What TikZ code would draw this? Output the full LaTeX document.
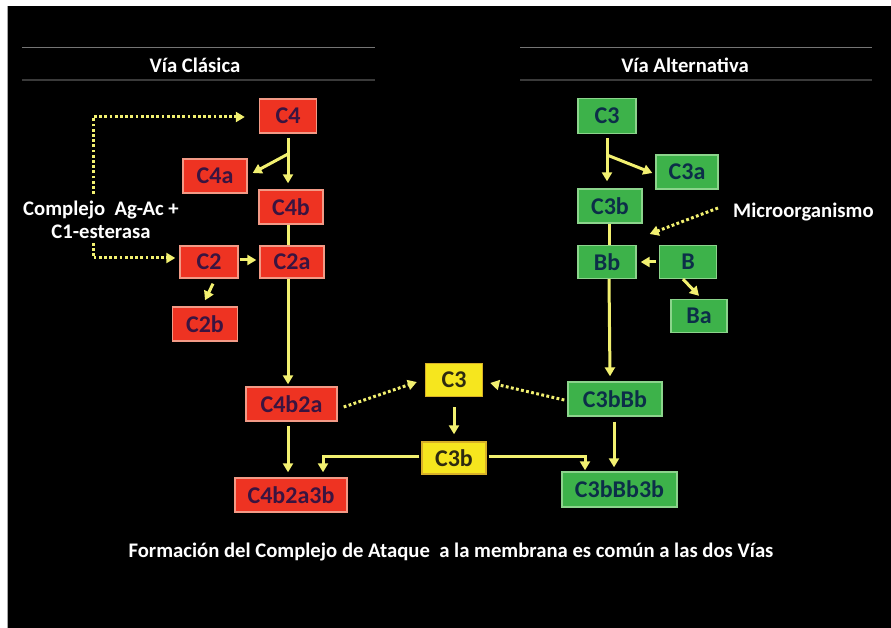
\documentclass[tikz,border=0pt]{standalone}
\usepackage{fontspec}
\setmainfont{Carlito}
\usetikzlibrary{arrows.meta}
\definecolor{redfill}{HTML}{EE3322}
\definecolor{redline}{HTML}{F29A86}
\definecolor{redtext}{HTML}{3A1440}
\definecolor{grnfill}{HTML}{3DB24A}
\definecolor{grnline}{HTML}{8CD48C}
\definecolor{grntext}{HTML}{0C2E48}
\definecolor{ylwfill}{HTML}{F6E61E}
\definecolor{ylwline}{HTML}{D8B028}
\definecolor{ylwtext}{HTML}{2E2A10}
\definecolor{arrowc}{HTML}{F2F070}
\definecolor{rulec}{HTML}{3A3A3A}
\tikzset{
  box/.style={draw, line width=1.4pt, inner sep=0pt, minimum height=34pt,
    font=\fontsize{24}{26}\selectfont\bfseries},
  redbox/.style={box, fill=redfill, draw=redline, text=redtext},
  grnbox/.style={box, fill=grnfill, draw=grnline, text=grntext},
  ylwbox/.style={box, fill=ylwfill, draw=ylwline, text=ylwtext},
  lbl/.style={text=white, font=\fontsize{20.7}{23}\selectfont\bfseries, inner sep=0pt},
  tip/.style={-{Triangle[length=9pt,width=10pt]}},
  arr/.style={draw=arrowc, line width=3pt, tip},
  plain/.style={draw=arrowc, line width=3pt},
  dots/.style={draw=arrowc, line width=3pt, dash pattern=on 2.8pt off 2.4pt, tip}
}
\begin{document}
\begin{tikzpicture}[x=1pt,y=-1pt]
\useasboundingbox (0,0) rectangle (891,628);
\fill[white] (0,0) rectangle (891,628);
\fill[black] (7,6) rectangle (891,628);
\draw[gray!70, line width=0.8pt] (7.4,6) -- (7.4,628);
% headers
\draw[rulec!70, line width=1pt] (22,48) -- (375,48);
\draw[rulec, line width=1.2pt] (22,80) -- (375,80);
\draw[rulec!70, line width=1pt] (520,48) -- (872,48);
\draw[rulec, line width=1.2pt] (520,80) -- (872,80);
\node[lbl] (hcl) at (195,65) {Vía Clásica};
\node[lbl] (halt) at (685,65) {Vía Alternativa};
% classical
\node[redbox, minimum width=57pt] (C4) at (288,116) {C4};
\node[redbox, minimum width=64pt] (C4a) at (215,176) {C4a};
\node[redbox, minimum width=64pt] (C4b) at (291,207) {C4b};
\node[redbox, minimum width=58pt, minimum height=32pt] (C2) at (209,262) {C2};
\node[redbox, minimum width=64pt, minimum height=32pt] (C2a) at (292,262) {C2a};
\node[redbox, minimum width=65pt] (C2b) at (205,324) {C2b};
\node[redbox, minimum width=91pt] (C4b2a) at (291.5,404) {C4b2a};
\node[redbox, minimum width=112pt] (C4b2a3b) at (291,495) {C4b2a3b};
% common
\node[ylwbox, minimum width=57pt, minimum height=33pt] (Y3) at (454,380) {C3};
\node[ylwbox, minimum width=64pt, minimum height=32pt] (Y3b) at (454,458) {C3b};
% alternative
\node[grnbox, minimum width=58pt, minimum height=35pt] (G3) at (607,116) {C3};
\node[grnbox, minimum width=62pt] (G3a) at (687,172) {C3a};
\node[grnbox, minimum width=64pt] (G3b) at (610,206) {C3b};
\node[grnbox, minimum width=58pt, minimum height=33pt] (Bb) at (607,262) {Bb};
\node[grnbox, minimum width=57pt, minimum height=33pt] (B) at (688,262) {B};
\node[grnbox, minimum width=56pt, minimum height=33pt] (Ba) at (699,316) {Ba};
\node[grnbox, minimum width=94pt] (GBb) at (615,399) {C3bBb};
\node[grnbox, minimum width=115pt, minimum height=35pt] (GBb3b) at (619.5,489.5) {C3bBb3b};
% labels
\node[lbl, align=center] (cx) at (101,220) {Complejo\ \ Ag-Ac +\\C1-esterasa};
\node[lbl, anchor=west] (mo) at (733,212) {Microorganismo};
\node[lbl] (foot) at (451,552) {Formación del Complejo de Ataque\ \ a la membrana es común a las dos Vías};
% classical connectors
\coordinate (c4split) at ([yshift=-38pt]C4.center);
\draw[arr] ([yshift=-4pt]C4.south) -- ([yshift=6pt]C4.south |- C4b.north);
\draw[arr] (c4split) -- ([xshift=5pt,yshift=3pt]C4a.east);
\draw[plain] (C4.south |- C4b.south) -- (C4.south |- C2a.north);
\draw[arr] ([xshift=1pt,yshift=2pt]C2.east) -- ([xshift=-3pt,yshift=2pt]C2a.west);
\draw[arr] ([shift={(4pt,-5pt)}]C2.south) -- ([yshift=6pt]C2b.north);
\draw[arr] (C4.south |- C2a.south) -- ([yshift=2pt]C4.south |- C4b2a.north);
\draw[arr] ([yshift=-4pt]C4.south |- C4b2a.south) -- ([yshift=5pt]C4.south |- C4b2a3b.north);
\draw[dots] ([shift={(6pt,-3pt)}]C4b2a.east) -- ([shift={(-8pt,-2pt)}]Y3.west);
% Complejo dotted
\draw[dots] ([shift={(-8pt,7pt)}]cx.north) |- ([xshift=-14pt,yshift=-1pt]C4.west);
\draw[dots] ([shift={(-8pt,-4pt)}]cx.south) |- ([xshift=-4pt,yshift=4pt]C2.west);
% common connectors
\draw[arr] ([yshift=-10pt]Y3.south) -- ([yshift=7pt]Y3b.north);
\draw[arr] ([xshift=-2pt,yshift=2pt]Y3b.west) -| ([xshift=32pt,yshift=5pt]C4b2a3b.north);
\draw[arr] ([xshift=2pt,yshift=2pt]Y3b.east) -| ([xshift=-34.5pt,yshift=1pt]GBb3b.north);
% alternative connectors
\coordinate (g3split) at ([yshift=-39pt]G3.center);
\draw[arr] ([yshift=-4pt]G3.south) -- ([yshift=7pt]G3.south |- G3b.north);
\draw[arr] (g3split) -- ([xshift=-3pt,yshift=-1pt]G3a.west);
\draw[plain] ([xshift=-1pt]G3b.south) -- ([xshift=-1pt]G3b.south |- Bb.north);
\draw[arr] ([xshift=-3pt]B.west) -- ([xshift=4pt]Bb.east);
\draw[arr] ([shift={(-5pt,0pt)}]B.south) -- ([yshift=3pt]Ba.north);
\draw[arr] ([xshift=2pt]Bb.south) -- ([xshift=3pt,yshift=5pt]Bb.south |- GBb.north);
\draw[arr] ([xshift=-1pt,yshift=-5pt]GBb.south) -- ([xshift=-5.5pt,yshift=4pt]GBb3b.north);
\draw[dots] ([shift={(-3pt,-1pt)}]GBb.west) -- ([shift={(7pt,-3pt)}]Y3.east);
\draw[dots] ([shift={(-15pt,4pt)}]mo.west) -- ([shift={(7pt,-28pt)}]G3b.east);
\end{tikzpicture}
\end{document}
